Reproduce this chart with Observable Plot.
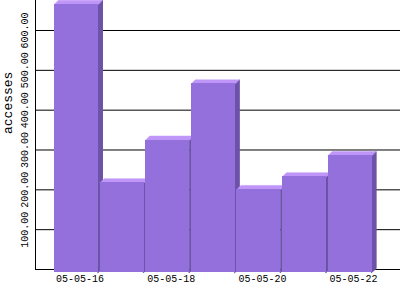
<!DOCTYPE html>
<html>
<head>
<meta charset="utf-8">
<script src="https://cdn.jsdelivr.net/npm/d3@7"></script>
<script src="https://cdn.jsdelivr.net/npm/@observablehq/plot@0.6"></script>
<style>
  html, body { margin: 0; padding: 0; background: #fff; }
  svg { display: block; }
</style>
</head>
<body>
<div id="chart"></div>
<script>
// Data
const days = ["05-05-16", "05-05-17", "05-05-18", "05-05-19", "05-05-20", "05-05-21", "05-05-22"];
const accesses = [666, 218, 325, 466, 201, 233, 286];
const yTicks = [100, 200, 300, 400, 500, 600];
const xLabels = ["05-05-16", "05-05-18", "05-05-20", "05-05-22"];

// Layout
const W = 400, H = 300, mL = 35, mB = 31;
const xDomain = [-0.4167, 7.5877];
const yDomain = [0, 675.3];
const kx = (W - mL) / (xDomain[1] - xDomain[0]);   // px per x unit
const ky = (H - mB) / (yDomain[1] - yDomain[0]);   // px per y unit
const depthX = 4 / kx, depthY = 4 / ky;            // 3D depth in data units
const barW = 44 / kx;
const bottom = -3 / ky;                             // front face hangs 3px below baseline

const bars = days.map((d, i) => ({day: d, i, v: accesses[i]}));

const tops = [], sides = [];
bars.forEach(b => {
  const x1 = b.i, x2 = b.i + barW;
  [[x1, b.v], [x1 + depthX, b.v + depthY], [x2 + depthX, b.v + depthY], [x2, b.v]]
    .forEach(([x, y]) => tops.push({id: b.i, x, y}));
  [[x2 - 0.5 / kx, b.v], [x2 + depthX, b.v + depthY], [x2 + depthX, bottom + depthY], [x2 - 0.5 / kx, bottom]]
    .forEach(([x, y]) => sides.push({id: b.i, x, y}));
});

const fmt = d3.format(".2f");
const mono = "Liberation Mono";
const sideC = "#6c53a8", topC = "#bf96f8", frontC = "#9370db";

const chart = Plot.plot({
  width: W, height: H,
  marginLeft: mL, marginRight: 0, marginTop: 0, marginBottom: mB,
  style: {background: "#fff"},
  x: {type: "linear", domain: xDomain, axis: null},
  y: {type: "linear", domain: yDomain, axis: null},
  marks: [
    Plot.ruleY(yTicks, {stroke: "#000", strokeWidth: 1}),
    Plot.ruleY([0], {stroke: "#000", strokeWidth: 1}),
    Plot.ruleX([xDomain[0]], {stroke: "#000", strokeWidth: 1}),
    Plot.line(sides, {x: "x", y: "y", z: "id", fill: sideC, stroke: sideC, strokeWidth: 1, curve: "linear-closed"}),
    Plot.line(tops, {x: "x", y: "y", z: "id", fill: topC, stroke: topC, strokeWidth: 0.5, curve: "linear-closed"}),
    Plot.rect(bars, {x1: "i", x2: d => d.i + barW, y1: bottom, y2: "v", fill: frontC, shapeRendering: "crispEdges"}),
    Plot.text(xLabels, {
      x: d => days.indexOf(d), text: d => d,
      frameAnchor: "bottom", dy: 12, dx: 1.5, textAnchor: "start",
      fontFamily: mono, fontSize: 10, fill: "#000"
    }),
    Plot.text(yTicks, {
      y: d => d, text: d => fmt(d),
      frameAnchor: "left", dx: -11, rotate: -90, textAnchor: "middle",
      fontFamily: mono, fontSize: 10, fill: "#000"
    }),
    Plot.text(["accesses"], {
      text: d => d, frameAnchor: "left", dx: -28, dy: -1, rotate: -90,
      fontFamily: mono, fontSize: 13, fill: "#000"
    })
  ]
});
document.getElementById("chart").appendChild(chart);
</script>
</body>
</html>
